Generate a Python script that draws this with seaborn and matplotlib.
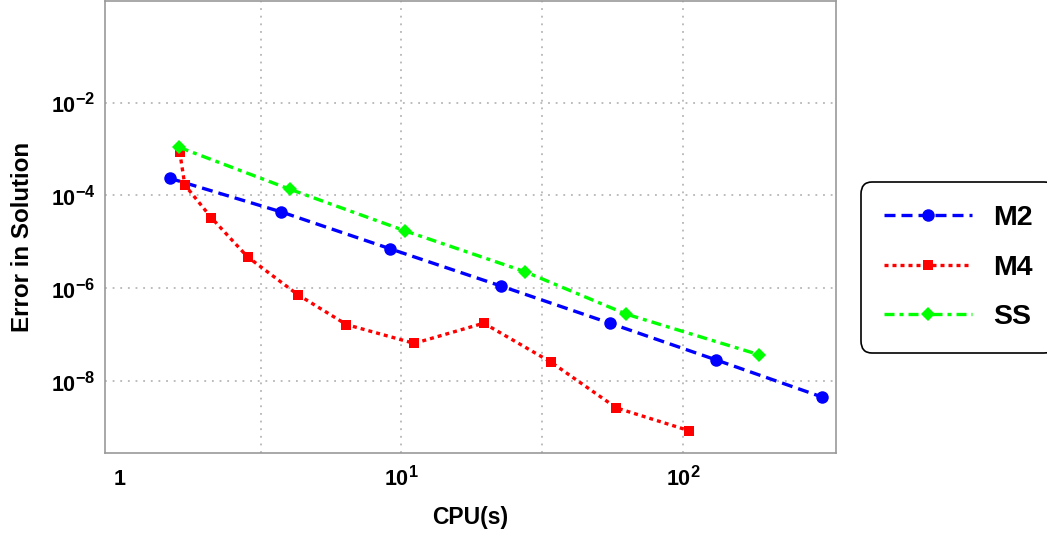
import pandas as pd
import seaborn as sns
import matplotlib.pyplot as plt
import matplotlib._mathtext as mathtext

# CPU time (s) and error in solution
m2_cpu = [1.50, 3.74, 9.14, 22.5, 55.0, 131, 313]
m2_err = [2.35e-4, 4.41e-5, 7.03e-6, 1.12e-6, 1.76e-7, 2.85e-8, 4.48e-9]

m4_cpu = [1.63, 1.70, 2.11, 2.84, 4.28, 6.38, 11.1, 19.6, 34.0, 58.0, 105]
m4_err = [8.8e-4, 1.68e-4, 3.32e-5, 4.73e-6, 7.28e-7, 1.64e-7, 6.46e-8,
          1.76e-7, 2.54e-8, 2.63e-9, 8.5e-10]

ss_cpu = [1.62, 4.01, 10.3, 27.4, 63.0, 187]
ss_err = [1.09e-3, 1.36e-4, 1.72e-5, 2.28e-6, 2.75e-7, 3.65e-8]

methods = ["M2", "M4", "SS"]

x_ticks = [1, 10, 100]
x_tick_labels = ["1", "$10^{1}$", "$10^{2}$"]
y_ticks = [1e-8, 1e-6, 1e-4, 1e-2]
y_tick_labels = ["$10^{-8}$", "$10^{-6}$", "$10^{-4}$", "$10^{-2}$"]
x_grid = [10 ** 0.5, 10, 10 ** 1.5, 100]

# line looks for each method
styles = {
    "M2": dict(color="#0000ff", marker="o", markersize=9, linestyle=(0, (3.3, 1.8))),
    "M4": dict(color="#ff0000", marker="s", markersize=7.5, linestyle=(0, (1.2, 1.2))),
    "SS": dict(color="#00ff00", marker="D", markersize=7.5, linestyle=(0, (3.0, 1.5, 1.2, 1.5))),
}


def main():
    # exponents in the original are a bit bigger than mathtext's default
    mathtext.SHRINK_FACTOR = 0.76

    sns.set_style("white")
    plt.rcParams["font.family"] = ["Liberation Sans", "DejaVu Sans"]
    plt.rcParams["font.weight"] = "bold"
    plt.rcParams["text.color"] = "black"
    plt.rcParams["axes.labelcolor"] = "black"
    plt.rcParams["mathtext.fontset"] = "custom"
    plt.rcParams["mathtext.rm"] = "Liberation Sans:bold"
    plt.rcParams["mathtext.it"] = "Liberation Sans:bold:italic"
    plt.rcParams["mathtext.bf"] = "Liberation Sans:bold"

    df = pd.concat([
        pd.DataFrame({"cpu": m2_cpu, "err": m2_err, "method": "M2"}),
        pd.DataFrame({"cpu": m4_cpu, "err": m4_err, "method": "M4"}),
        pd.DataFrame({"cpu": ss_cpu, "err": ss_err, "method": "SS"}),
    ])

    fig = plt.figure(figsize=(10.47, 5.38), dpi=100)
    ax = fig.add_axes([105 / 1047, 1 - 453 / 538, 731 / 1047, 452 / 538])

    for v in x_grid:
        ax.axvline(v, color="#aaaaaa", lw=1.1, ls=(0, (1.2, 3.8)), zorder=0)
    for v in y_ticks:
        ax.axhline(v, color="#aaaaaa", lw=1.1, ls=(0, (1.2, 3.8)), zorder=0)

    for m in methods:
        sub = df[df["method"] == m]
        sns.lineplot(data=sub, x="cpu", y="err", ax=ax, label=m, estimator=None,
                     linewidth=2.4, markeredgewidth=0, **styles[m])

    ax.set_xscale("log")
    ax.set_yscale("log")
    ax.set_xlim(0.885, 349.7)
    ax.set_ylim(2.8e-10, 1.55)
    ax.set_xticks(x_ticks, labels=x_tick_labels)
    ax.set_yticks(y_ticks, labels=y_tick_labels)
    ax.minorticks_off()
    ax.tick_params(which="both", direction="in", color="#999999", length=5, width=0.9,
                   labelsize=15.5, labelcolor="black")
    ax.tick_params(axis="x", pad=23)
    ax.tick_params(axis="y", pad=7)
    plt.setp(ax.get_xticklabels(), va="baseline")

    for s in ax.spines.values():
        s.set_color("#999999")
        s.set_linewidth(1.2)

    ax.set_xlabel("CPU(s)", fontsize=16.5, fontweight="bold")
    ax.set_ylabel("Error in Solution", fontsize=17.4, fontweight="bold")
    ax.xaxis.set_label_coords(0.5, -0.117)
    ax.yaxis.set_label_coords(-0.097, 0.4785)

    handles, labels = ax.get_legend_handles_labels()
    leg = ax.legend(handles, labels, loc="center left",
                    bbox_to_anchor=(861 / 1047, 1 - 267.5 / 538),
                    bbox_transform=fig.transFigure, borderaxespad=0,
                    prop={"family": "Liberation Sans", "weight": "bold", "size": 20.5},
                    handlelength=3.1, handletextpad=0.75, borderpad=0.8,
                    labelspacing=0.82, numpoints=1, frameon=True, fancybox=True)
    frame = leg.get_frame()
    frame.set_edgecolor("black")
    frame.set_linewidth(1.2)
    frame.set_alpha(1)
    frame.set_boxstyle("round", pad=0, rounding_size=0.4)

    fig.savefig("out.png", dpi=100)


if __name__ == "__main__":
    main()
